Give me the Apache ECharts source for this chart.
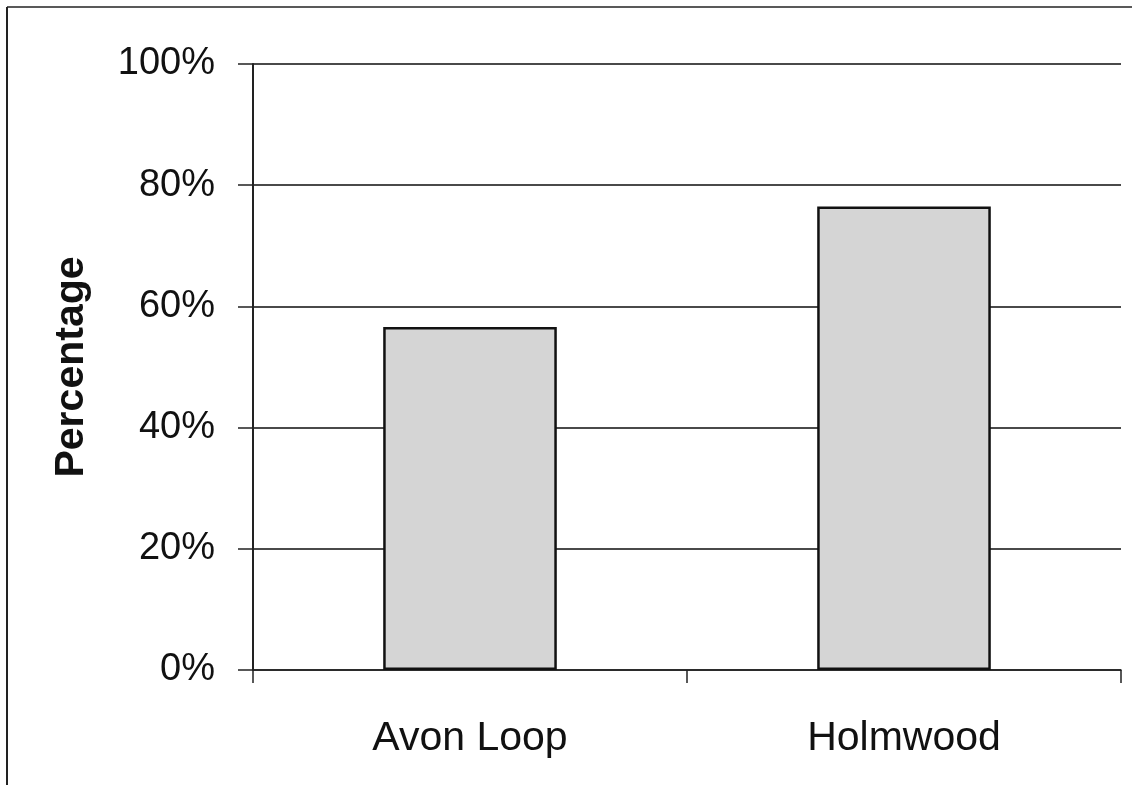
<!DOCTYPE html>
<html>
<head>
<meta charset="utf-8">
<script src="https://cdn.jsdelivr.net/npm/echarts@6/dist/echarts.min.js"></script>
<style>
  html, body { margin: 0; padding: 0; background: #fff; }
  #chart { width: 1132px; height: 785px; }
</style>
</head>
<body>
<div id="chart"></div>
<script>
// Share of respondents for each site
const categories = ['Avon Loop', 'Holmwood'];
const percentValues = [56.6, 76.5];
const yTicks = [0, 20, 40, 60, 80, 100];

const chart = echarts.init(document.getElementById('chart'));
const font = '"Liberation Sans", Arial, Helvetica, sans-serif';

chart.setOption({
  animation: false,
  backgroundColor: '#ffffff',
  grid: { left: 253, right: 11, top: 64, bottom: 115 },
  graphic: [
    { type: 'line', shape: { x1: 7, y1: 7, x2: 7, y2: 785 }, style: { stroke: '#222', lineWidth: 2 } },
    { type: 'line', shape: { x1: 7, y1: 7, x2: 1132, y2: 7 }, style: { stroke: '#222', lineWidth: 1.5 } }
  ],
  xAxis: {
    type: 'category',
    data: categories,
    axisLine: { show: true, lineStyle: { color: '#222', width: 1.5 } },
    axisTick: { show: true, length: 13, lineStyle: { color: '#222', width: 1.5 } },
    axisLabel: { margin: 48, fontSize: 41, color: '#111', fontFamily: font }
  },
  yAxis: {
    type: 'value',
    min: yTicks[0],
    max: yTicks[yTicks.length - 1],
    interval: 20,
    name: 'Percentage',
    nameLocation: 'middle',
    nameGap: 161,
    nameTextStyle: { fontSize: 41, fontWeight: 'bold', color: '#111', fontFamily: font },
    axisLine: { show: true, lineStyle: { color: '#222', width: 2 } },
    axisTick: { show: true, length: 15, lineStyle: { color: '#222', width: 1.5 } },
    axisLabel: { margin: 38, fontSize: 38, color: '#111', fontFamily: font, formatter: v => v + '%' },
    splitLine: { show: true, lineStyle: { color: '#4a4a4a', width: 2 } }
  },
  series: [{
    type: 'bar',
    data: percentValues,
    barWidth: '40%',
    itemStyle: { color: '#d5d5d5', borderColor: '#111', borderWidth: 2.5 }
  }]
});
</script>
</body>
</html>
